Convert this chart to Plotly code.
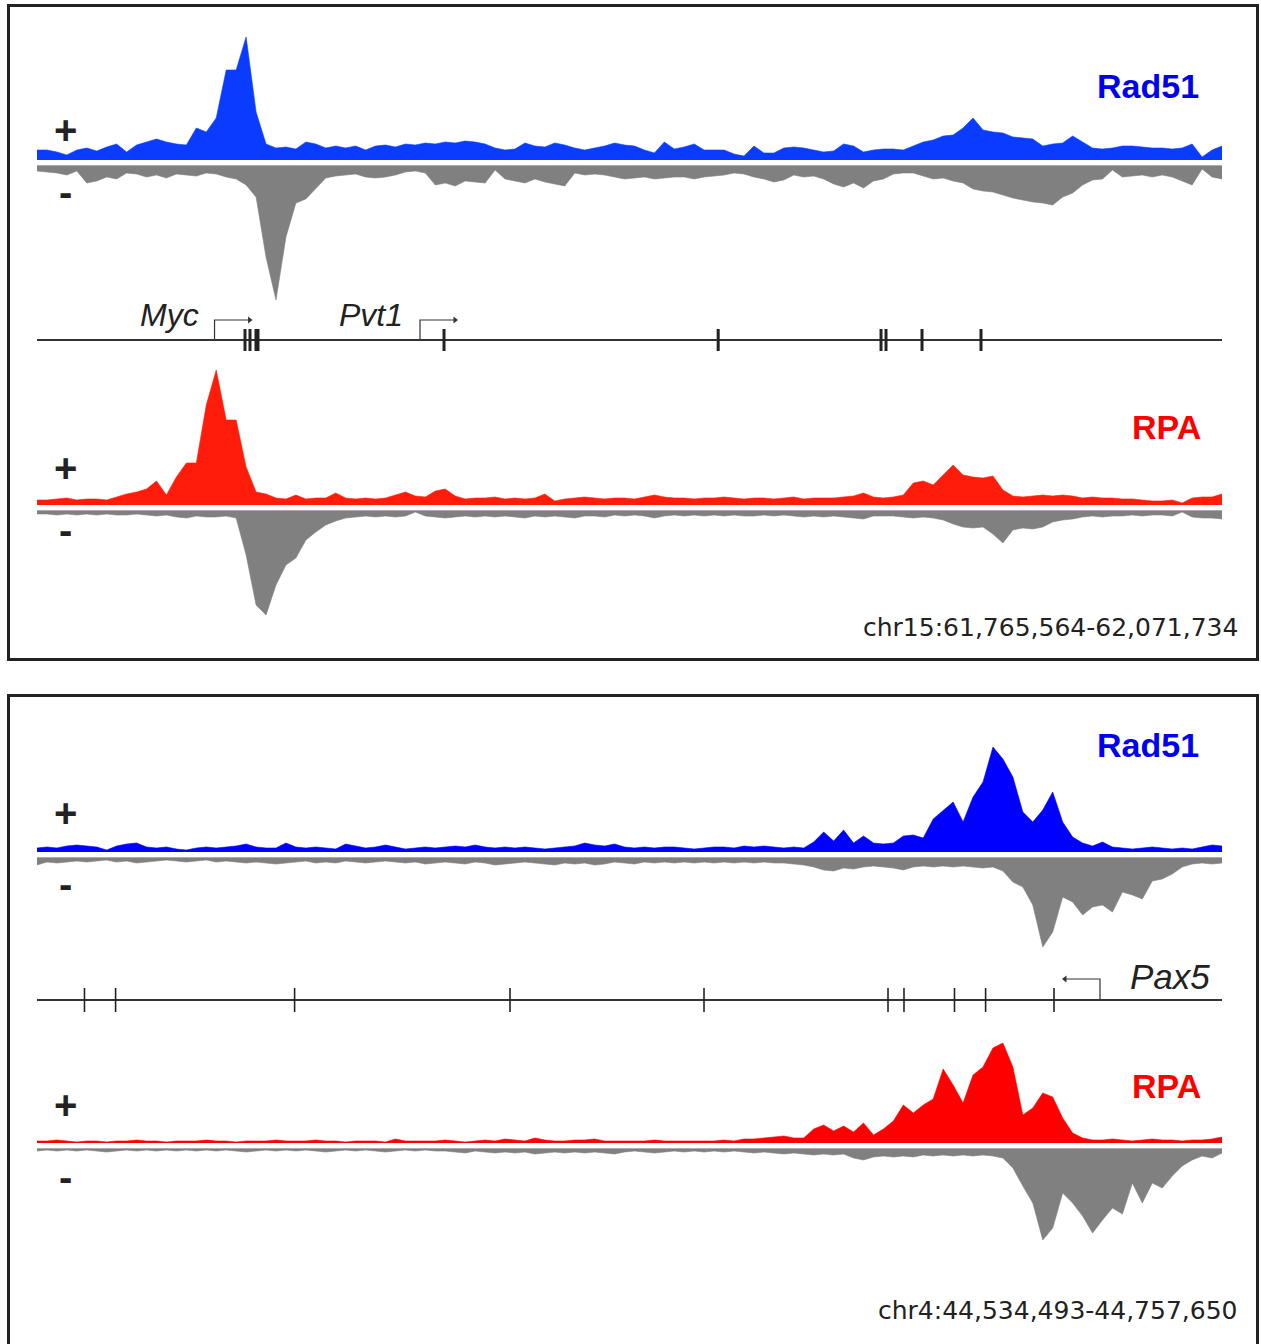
import plotly.graph_objects as go

W, H = 1261, 1344
PAGE_OFFSET = 0   # body margin removed via post_script below

# ---------------- data ----------------
REGION1 = "chr15:61,765,564-62,071,734"
REGION2 = "chr4:44,534,493-44,757,650"
LEN1_KB = 306.170
LEN2_KB = 223.157

# signal per bin (120 bins across region), arbitrary units
P1_RAD51_PLUS = [10,10,8,5,10,12,9,13,16,8, 15,18,21,18,16,15,32,28,42,90,
                 90,123,48,16,12,13,11,18,16,12, 14,12,14,10,14,15,13,16,15,17,
                 16,18,17,19,18,16,12,10,11,17, 14,13,17,15,12,10,12,14,17,15,
                 14,10,7,18,11,13,16,10,10,10, 6,4,14,7,7,12,13,12,10,8,
                 9,16,14,8,10,11,11,10,14,18, 20,24,25,32,42,30,28,27,23,22,
                 21,14,16,17,24,18,12,11,12,14, 14,13,12,12,11,12,16,3,10,14]
P1_RAD51_MINUS = [6,7,8,10,6,18,16,12,14,8, 9,12,10,13,9,10,11,8,9,12,
                  14,20,32,92,135,72,38,34,24,13, 11,10,9,12,13,12,10,7,6,8,
                  20,18,21,16,17,18,5,14,16,18, 14,17,19,21,8,10,9,10,12,14,
                  13,12,14,13,12,12,14,12,11,10, 8,9,12,14,17,15,10,12,11,14,
                  19,22,18,23,16,14,9,8,8,11, 14,13,16,18,24,26,27,30,33,35,
                  37,38,40,32,28,20,15,14,5,12, 11,10,12,10,12,16,20,4,12,14]
P1_RPA_PLUS = [5,5,6,7,5,6,6,5,8,11, 13,16,24,10,28,42,42,100,135,85,
               85,38,13,11,7,6,10,6,7,7, 12,7,6,7,6,7,10,13,9,8,
               14,16,9,6,7,7,8,6,7,6, 7,11,4,6,7,8,7,6,7,7,
               6,8,10,8,7,7,6,7,7,8, 7,6,7,7,6,7,8,6,7,7,
               7,8,9,12,8,7,8,10,22,24, 20,30,40,30,28,27,29,15,9,8,
               9,10,9,10,9,7,8,7,7,6, 6,5,4,4,5,2,7,8,8,11]
P1_RPA_MINUS = [4,4,5,4,5,4,5,4,5,5, 4,5,6,5,7,8,6,7,7,6,
                8,45,95,105,75,55,48,30,22,15, 11,8,7,6,7,6,7,6,2,6,
                7,8,7,6,7,6,7,6,7,8, 6,7,6,7,8,6,6,7,5,6,
                5,6,8,6,5,6,5,6,5,6, 5,6,6,5,6,5,6,7,6,7,
                6,7,8,9,6,6,6,7,8,7, 8,10,14,17,18,17,24,33,20,18,
                19,17,12,10,9,7,6,7,6,6, 5,6,5,5,6,2,7,8,8,9]

P2_RAD51_PLUS = [4,5,4,6,7,6,5,2,6,8, 9,5,4,5,3,2,4,5,4,5,
                 6,8,5,4,4,9,5,4,5,4, 3,8,6,4,5,7,5,3,4,5,
                 4,5,6,5,7,5,4,5,4,5, 4,3,4,5,6,9,7,6,8,5,
                 4,5,4,5,5,4,3,4,5,5, 4,6,5,6,5,4,5,4,10,20,
                 11,22,9,16,9,8,9,16,17,14, 33,42,50,30,55,70,105,93,75,40,
                 30,42,60,30,15,9,6,10,5,4, 3,4,5,4,3,4,3,5,7,6]
P2_RAD51_MINUS = [8,5,6,5,4,5,4,3,5,4, 6,5,4,3,4,5,4,3,5,4,
                  5,6,5,6,7,6,5,4,6,5, 6,4,5,6,5,4,5,6,5,7,
                  6,5,6,7,5,6,8,7,6,5, 6,7,8,6,7,6,8,7,5,6,
                  7,5,6,5,6,5,6,5,6,5, 6,5,6,5,6,6,7,8,10,13,
                  14,11,12,10,9,10,11,13,10,9, 10,9,10,9,10,11,10,14,25,30,
                  48,90,75,40,45,58,50,48,55,35, 38,42,24,22,17,10,7,6,7,6]
P2_RPA_PLUS = [2,2,3,2,1,2,2,1,2,2, 3,2,2,1,2,2,2,3,2,2,
               1,2,2,2,3,2,2,2,3,2, 2,1,2,2,2,1,4,2,2,2,
               2,3,2,1,2,3,2,4,3,2, 5,3,2,2,3,3,4,2,2,2,
               2,2,3,2,2,2,2,2,2,3, 2,4,4,5,6,7,5,5,14,18,
               12,17,11,20,8,14,22,38,30,38, 44,74,58,40,68,76,95,100,76,28,
               35,50,46,25,10,5,3,3,4,3, 2,3,4,3,3,2,3,3,4,6]
P2_RPA_MINUS = [3,2,3,2,3,2,3,4,3,2, 3,2,3,2,3,2,3,2,3,2,
                3,4,3,2,3,2,3,2,3,4, 3,2,3,2,3,4,3,2,3,2,
                3,3,4,5,3,4,5,4,5,4, 6,5,4,5,4,5,4,5,6,4,
                3,4,5,4,3,4,3,4,3,4, 3,4,5,4,5,6,5,6,7,6,
                7,6,10,12,9,8,9,8,9,7, 8,7,8,7,8,7,8,10,20,38,
                55,92,80,45,55,68,85,72,60,66, 35,55,35,40,28,18,12,8,10,5]

# gene annotations (kb from region start)
P1_EXONS_KB = [53.74, 55.03, 105.16, 176.0, 218.07, 219.36, 228.66, 243.90]
P1_WIDE_EXONS_KB = [56.84]
P1_TSS_KB = [45.87, 98.96]          # Myc, Pvt1 (forward strand)
P1_GENES = ["Myc", "Pvt1"]
P2_EXONS_KB = [8.94, 14.80, 48.51, 89.07, 125.61, 160.26, 163.27, 172.78, 178.64, 191.52]
P2_TSS_KB = [200.18]                 # Pax5 (reverse strand)
P2_GENES = ["Pax5"]

# ---------------- styling / layout helpers ----------------
X0, X1 = 37, 1222          # track pixel extent (page coordinates)


def px(p):
    return (p - PAGE_OFFSET) / W


def py(p):
    return 1 - (p - PAGE_OFFSET) / H


def bins_x(n, length):
    return [i * length / (n - 1) for i in range(n)]


fig = go.Figure()
layout = dict(
    width=W, height=H, margin=dict(l=0, r=0, t=0, b=0),
    paper_bgcolor="white", plot_bgcolor="rgba(0,0,0,0)",
    showlegend=False,
    xaxis=dict(domain=[px(X0), px(X1)], range=[0, LEN1_KB], visible=False, fixedrange=True),
    xaxis2=dict(domain=[px(X0), px(X1)], range=[0, LEN2_KB], visible=False, fixedrange=True),
)

GRAY = "#808080"
tracks = [
    # values, sign, xaxis, yaxis-id, baseline px, span px, color
    (P1_RAD51_PLUS, 1, "x", 1, 160, 130, "#0a3cff"),
    (P1_RAD51_MINUS, -1, "x", 2, 165, 140, GRAY),
    (P1_RPA_PLUS, 1, "x", 4, 505, 140, "#ff1c0a"),
    (P1_RPA_MINUS, -1, "x", 5, 510, 120, GRAY),
    (P2_RAD51_PLUS, 1, "x2", 6, 852, 120, "#0000ff"),
    (P2_RAD51_MINUS, -1, "x2", 7, 857, 110, GRAY),
    (P2_RPA_PLUS, 1, "x2", 9, 1143, 115, "#ff0000"),
    (P2_RPA_MINUS, -1, "x2", 10, 1148, 110, GRAY),
]

for vals, sign, xa, yid, base, span, col in tracks:
    length = LEN1_KB if xa == "x" else LEN2_KB
    yname = "yaxis" if yid == 1 else f"yaxis{yid}"
    yref = "y" if yid == 1 else f"y{yid}"
    if sign > 0:
        dom = [py(base), py(base - span)]
        rng = [0, span]
    else:
        dom = [py(base + span), py(base)]
        rng = [-span, 0]
    layout[yname] = dict(domain=dom, range=rng, visible=False, fixedrange=True, anchor=xa)
    fig.add_trace(go.Scatter(
        x=bins_x(len(vals), length), y=[sign * v for v in vals],
        xaxis=xa, yaxis=yref,
        mode="lines", fill="tozeroy", fillcolor=col,
        line=dict(color=col, width=0.6), hoverinfo="skip"))
    if sign < 0:
        fig.add_trace(go.Scatter(x=[0, length], y=[0, 0], xaxis=xa, yaxis=yref, mode="lines",
                                 line=dict(color="#b8b8b8", width=1.5), hoverinfo="skip"))

# gene tracks
GENE_AXES = [(3, "x", 340, LEN1_KB), (8, "x2", 1000, LEN2_KB)]
for yid, xa, center, length in GENE_AXES:
    layout[f"yaxis{yid}"] = dict(domain=[py(center + 30), py(center - 30)], range=[-30, 30],
                                 visible=False, fixedrange=True, anchor=xa)
    fig.add_trace(go.Scatter(x=[0, length], y=[0, 0], xaxis=xa, yaxis=f"y{yid}",
                             mode="lines", line=dict(color="#333333", width=2), hoverinfo="skip"))


def ticks(xs, half):
    xx, yy = [], []
    for e in xs:
        xx += [e, e, None]
        yy += [-half, half, None]
    return xx, yy


tx, ty = ticks(P1_EXONS_KB, 11)
fig.add_trace(go.Scatter(x=tx, y=ty, xaxis="x", yaxis="y3", mode="lines",
                         line=dict(color="#222222", width=3), hoverinfo="skip"))
tx, ty = ticks(P1_WIDE_EXONS_KB, 11)
fig.add_trace(go.Scatter(x=tx, y=ty, xaxis="x", yaxis="y3", mode="lines",
                         line=dict(color="#222222", width=5), hoverinfo="skip"))
tx, ty = ticks(P2_EXONS_KB, 12)
fig.add_trace(go.Scatter(x=tx, y=ty, xaxis="x2", yaxis="y8", mode="lines",
                         line=dict(color="#222222", width=1.6), hoverinfo="skip"))

# TSS arrows
ARROW_PX = 35
for t in P1_TSS_KB:
    a = ARROW_PX / (X1 - X0) * LEN1_KB
    fig.add_trace(go.Scatter(x=[t, t, t + a], y=[0, 20, 20], xaxis="x", yaxis="y3",
                             mode="lines", line=dict(color="#333333", width=1.2), hoverinfo="skip"))
    fig.add_trace(go.Scatter(x=[t + a], y=[20], xaxis="x", yaxis="y3", mode="markers",
                             marker=dict(symbol="triangle-right", size=6, color="#333333"),
                             hoverinfo="skip"))
for t in P2_TSS_KB:
    a = ARROW_PX / (X1 - X0) * LEN2_KB
    fig.add_trace(go.Scatter(x=[t, t, t - a], y=[0, 21, 21], xaxis="x2", yaxis="y8",
                             mode="lines", line=dict(color="#333333", width=1.2), hoverinfo="skip"))
    fig.add_trace(go.Scatter(x=[t - a], y=[21], xaxis="x2", yaxis="y8", mode="markers",
                             marker=dict(symbol="triangle-left", size=6, color="#333333"),
                             hoverinfo="skip"))

# ---------------- text ----------------
ann = []


def text(s, x, y, size, color="#222222", weight="normal", style="normal",
         xanchor="center", family="Liberation Sans"):
    ann.append(dict(text=s, x=px(x), y=py(y), xref="paper", yref="paper",
                    xanchor=xanchor, yanchor="middle", showarrow=False,
                    font=dict(size=size, color=color, family=family, weight=weight, style=style)))


# gene names
text(P1_GENES[0], 169, 315, 32, style="italic")
text(P1_GENES[1], 371, 315, 32, style="italic")
text(P2_GENES[0], 1170, 976, 35, style="italic")

# track labels
text("Rad51", 1148, 86, 34, color="#0000ee", weight="bold")
text("RPA", 1166, 427, 34, color="#ff0000", weight="bold")
text("Rad51", 1148, 745, 34, color="#0000ee", weight="bold")
text("RPA", 1166, 1086, 34, color="#ff0000", weight="bold")

# strand labels
for yp, ym in [(130, 192), (468, 530), (813, 884), (1105, 1177)]:
    text("+", 65, yp, 40, weight="bold")
    text("-", 65, ym, 40, weight="bold")

# region labels
text(REGION1, 1240, 627, 25, xanchor="right", family="DejaVu Sans")
text(REGION2, 1240, 1310, 25, xanchor="right", family="DejaVu Sans")

layout["annotations"] = ann
layout["shapes"] = [
    dict(type="rect", xref="paper", yref="paper", x0=px(8.5), x1=px(1257.5), y0=py(659.5), y1=py(5.5),
         line=dict(color="#222222", width=3), fillcolor="rgba(0,0,0,0)"),
    dict(type="rect", xref="paper", yref="paper", x0=px(8.5), x1=px(1257.5), y0=py(1370), y1=py(695.5),
         line=dict(color="#222222", width=3), fillcolor="rgba(0,0,0,0)"),
]

fig.update_layout(**layout)
fig.write_html("out.html",
               config={"displayModeBar": False, "staticPlot": True},
               post_script="document.body.style.margin='0';document.body.style.overflow='hidden';")
